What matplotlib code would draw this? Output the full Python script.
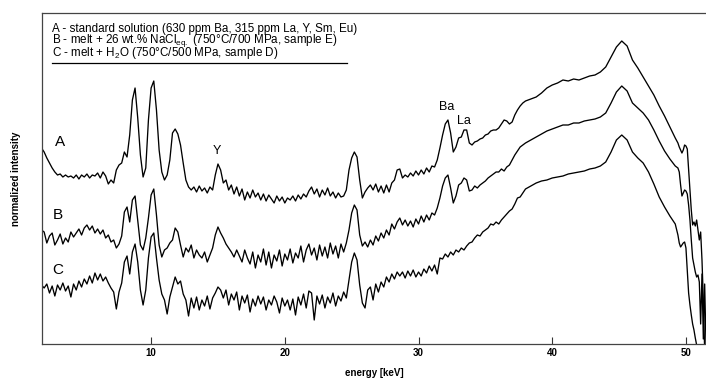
import numpy as np
import matplotlib
matplotlib.use("Agg")
import matplotlib.pyplot as plt

plt.rcParams['font.family'] = ['Liberation Sans', 'DejaVu Sans']
plt.rcParams['mathtext.fontset'] = 'custom'
plt.rcParams['mathtext.rm'] = 'Liberation Sans'
plt.rcParams['mathtext.it'] = 'Liberation Sans:italic'

# energy channels [keV]: fine in the noisy part, coarser on the smooth hump, fine at the cut-off
energy = np.concatenate([
    np.round(1.8 + 0.2 * np.arange(181), 2),
    np.round(38.0 + 0.4 * np.arange(29), 2),
    np.round(49.4 + 0.1 * np.arange(22), 2),
])

# normalized intensity (arbitrary units)
spec_A = [
    196, 192, 186, 181, 176, 172, 169, 170, 167, 169,
    167, 168, 166, 169, 165, 169, 167, 170, 166, 169,
    168, 171, 166, 172, 168, 160, 164, 161, 174, 179,
    181, 192, 187, 209, 244, 256, 226, 189, 167, 176,
    224, 256, 263, 234, 194, 172, 164, 169, 184, 211,
    215, 210, 199, 181, 164, 157, 154, 157, 152, 158,
    153, 156, 151, 157, 154, 169, 180, 174, 161, 164,
    154, 159, 150, 157, 148, 155, 144, 152, 146, 154,
    147, 151, 144, 150, 143, 149, 145, 141, 148, 143,
    147, 141, 146, 144, 148, 143, 149, 145, 150, 147,
    153, 157, 150, 155, 147, 154, 149, 156, 148, 152,
    146, 151, 147, 148, 154, 174, 186, 192, 187, 164,
    146, 152, 156, 159, 154, 160, 152, 158, 151, 159,
    152, 161, 164, 174, 175, 166, 169, 167, 171, 168,
    173, 169, 174, 170, 176, 172, 178, 177, 184, 196,
    209, 220, 224, 211, 192, 197, 206, 207, 214, 214,
    201, 199, 202, 203, 205, 206, 209, 210, 213, 214,
    214, 216, 220, 224, 223, 220, 222, 229, 234, 238, 241,
    243, 245, 247, 251, 256, 259, 261, 264, 263, 265,
    264, 266, 268, 269, 272, 277, 287, 297, 303, 298,
    284, 276, 267, 258, 249, 238, 228, 217, 206,
    201, 197, 194, 191, 194, 199, 198, 195, 174, 154,
    134, 119, 122, 118, 124, 114, 104, 112, 84, 44, -6, -16,
]

spec_B = [
    114, 112, 101, 108, 111, 99, 104, 110, 100, 106,
    102, 112, 107, 111, 115, 109, 116, 119, 114, 118,
    111, 115, 110, 114, 106, 109, 102, 104, 96, 100,
    108, 132, 137, 122, 144, 148, 124, 99, 94, 106,
    126, 149, 155, 129, 99, 87, 94, 96, 101, 104,
    116, 112, 99, 87, 96, 92, 99, 86, 94, 89,
    86, 92, 82, 89, 96, 109, 117, 111, 106, 100,
    96, 92, 87, 94, 88, 82, 94, 86, 80, 92,
    76, 89, 82, 95, 79, 92, 76, 89, 83, 94,
    78, 90, 84, 95, 81, 91, 86, 98, 82, 94,
    100, 89, 96, 84, 99, 88, 97, 86, 101, 90,
    98, 86, 100, 92, 101, 114, 131, 139, 134, 109,
    98, 102, 97, 104, 99, 108, 103, 111, 106, 114,
    109, 120, 115, 122, 126, 119, 124, 118, 123, 117,
    125, 120, 128, 122, 129, 124, 131, 129, 136, 146,
    158, 166, 169, 156, 141, 148, 159, 161, 166, 164,
    153, 154, 158, 156, 159, 161, 163, 166, 168, 170,
    172, 172, 175, 173, 177, 179, 184, 189, 193, 197, 199,
    201, 204, 207, 210, 213, 215, 217, 219, 219, 221,
    221, 223, 224, 225, 227, 231, 241, 252, 258, 253,
    241, 236, 231, 224, 214, 203, 193, 185, 178,
    176, 172, 159, 148, 151, 154, 153, 150, 139, 124,
    104, 86, 79, 72, 67, 69, 62, 20, 70, 5, 60, 0,
]

spec_C = [
    59, 56, 60, 51, 58, 48, 59, 54, 61, 53,
    58, 47, 60, 54, 63, 57, 65, 60, 68, 61,
    71, 64, 70, 63, 67, 61, 56, 52, 35, 52,
    61, 82, 88, 70, 92, 100, 82, 54, 39, 54,
    86, 107, 111, 86, 64, 50, 44, 30, 47, 57,
    67, 60, 63, 50, 44, 28, 46, 36, 47, 34,
    44, 38, 48, 35, 46, 51, 57, 54, 46, 54,
    39, 50, 44, 52, 34, 48, 41, 49, 32, 45,
    38, 48, 40, 47, 34, 44, 39, 48, 42, 31,
    46, 38, 44, 34, 45, 29, 47, 39, 50, 36,
    53, 51, 24, 48, 40, 49, 36, 47, 41, 51,
    38, 48, 43, 52, 46, 64, 82, 91, 84, 59,
    41, 36, 54, 57, 44, 60, 52, 62, 57, 67,
    62, 70, 65, 72, 68, 72, 66, 73, 68, 74,
    67, 72, 68, 75, 71, 78, 73, 79, 70, 86,
    85, 90, 87, 92, 89, 94, 92, 96, 94, 98,
    101, 102, 106, 109, 108, 112, 114, 116, 120, 119,
    122, 120, 124, 127, 130, 133, 135, 140, 146, 147, 151,
    155, 158, 161, 163, 164, 166, 167, 168, 170, 171,
    172, 173, 175, 176, 178, 182, 192, 204, 209, 204,
    192, 186, 181, 172, 160, 147, 137, 128, 120,
    109, 101, 97, 99, 101, 102, 96, 74, 51, 39,
    29, 20, 14, 6, -1, -6, -10, -10, -10, -10, -10, -10,
]

legend_lines = [
    "A - standard solution (630 ppm Ba, 315 ppm La, Y, Sm, Eu)",
    r"B - melt + 26 wt.% NaCl$_{\mathrm{eq.}}$ (750°C/700 MPa, sample E)",
    r"C - melt + H$_{\mathrm{2}}$O (750°C/500 MPa, sample D)",
]

fig = plt.figure(figsize=(7.06, 3.79), dpi=100)
ax = fig.add_axes([42 / 706, 35 / 379, 664 / 706, 331 / 379])

for spec in (spec_A, spec_B, spec_C):
    ax.plot(energy, spec, color='black', lw=0.95)

ax.set_xlim(1.84, 51.5)
ax.set_ylim(0, 331)
ax.set_xticks([10, 20, 30, 40, 50])
ax.set_yticks([])
ax.tick_params(axis='x', direction='in', length=5, width=0.8, pad=3,
               labelsize=7, colors='#333333', labelcolor='black')
for lbl in ax.get_xticklabels():
    lbl.set_fontweight('bold')
for side in ('left', 'top', 'bottom'):
    ax.spines[side].set_color('#444444')
    ax.spines[side].set_linewidth(0.9)
ax.spines['right'].set_visible(False)

ax.set_xlabel('energy [keV]', fontsize=7, fontweight='bold')
ax.xaxis.set_label_coords(0.5, -0.072)
ax.set_ylabel('normalized intensity', fontsize=7, fontweight='bold')
ax.yaxis.set_label_coords(-0.032, 0.5)

# legend block as a single multi-line text
ax.text(0.015, 0.971, "\n".join(legend_lines), transform=ax.transAxes,
        fontsize=8.4, va='top', ha='left', linespacing=0.72)
ax.plot([0.015, 0.459], [0.850, 0.850], transform=ax.transAxes,
        color='black', lw=0.9)

# trace and peak labels
ax.text(3.19, 202, 'A', fontsize=11, ha='center', va='center')
ax.text(3.04, 129, 'B', fontsize=11, ha='center', va='center')
ax.text(3.04, 74, 'C', fontsize=11, ha='center', va='center')
ax.text(14.95, 193, 'Y', fontsize=9, ha='center', va='center')
ax.text(32.1, 237, 'Ba', fontsize=9, ha='center', va='center')
ax.text(33.4, 223, 'La', fontsize=9, ha='center', va='center')

fig.savefig('out.png', dpi=100)
